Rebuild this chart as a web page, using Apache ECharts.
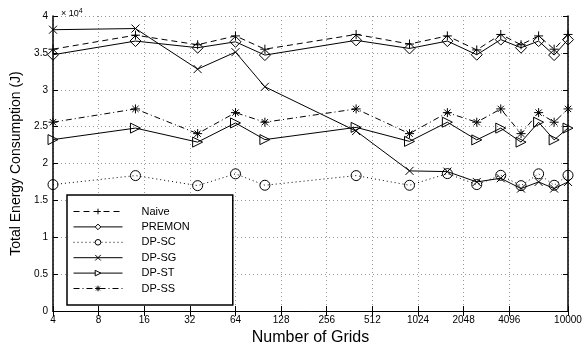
<!DOCTYPE html>
<html>
<head>
<meta charset="utf-8">
<script src="https://cdn.jsdelivr.net/npm/echarts@6/dist/echarts.min.js"></script>
<style>
  html, body { margin: 0; padding: 0; background: #fff; }
  #chart { width: 587px; height: 343px; }
</style>
</head>
<body>
<div id="chart"></div>
<script>
// x values (number of grids)
var grids = [4, 14, 36, 64, 100, 400, 900, 1600, 2500, 3600, 4900, 6400, 8100, 10000];
var xTicks = [4, 8, 16, 32, 64, 128, 256, 512, 1024, 2048, 4096, 10000];

// energy in J
var naive = [35500, 37400, 36100, 37300, 35500, 37500, 36200, 37300, 35400, 37500, 36100, 37300, 35500, 37500];
var premon = [34750, 36600, 35700, 36500, 34700, 36700, 35600, 36600, 34750, 36800, 35700, 36600, 34700, 36800];
var dpSC = [17140, 18360, 17000, 18600, 17050, 18360, 17050, 18630, 17140, 18400, 17000, 18600, 17050, 18400];
var dpSG = [38140, 38300, 32800, 35100, 30400, 24400, 19000, 18900, 17500, 18000, 16600, 17500, 16600, 17500];
var dpST = [23240, 24800, 22900, 25500, 23240, 24900, 23000, 25600, 23200, 24800, 22900, 25600, 23200, 24800];
var dpSS = [25600, 27400, 24050, 26900, 25600, 27400, 24050, 26900, 25600, 27400, 24050, 26900, 25600, 27400];

var FONT = "Liberation Sans";

function pairs(vals) {
  return grids.map(function (g, i) { return [g, vals[i]]; });
}

function line(name, vals, symbol, size, dash) {
  return {
    name: name,
    type: "line",
    data: pairs(vals),
    symbol: symbol,
    symbolSize: size,
    showAllSymbol: true,
    lineStyle: { color: "#000", width: 1, type: dash },
    itemStyle: { color: "rgba(0,0,0,0)", borderColor: "#000", borderWidth: 1 },
    emphasis: { disabled: true },
    animation: false
  };
}

var chart = echarts.init(document.getElementById("chart"));

var xLabel = {
  customValues: xTicks,
  fontFamily: FONT, fontSize: 10, color: "#000", margin: 4,
  formatter: function (v) { return String(Math.round(v)); }
};

var option = {
  title: {
    text: "× 10{s|4}",
    left: 56, top: 3,
    textStyle: {
      fontFamily: FONT, fontSize: 9, fontWeight: "normal", color: "#000",
      rich: { s: { fontSize: 7, verticalAlign: "top", padding: [0, 0, 5, 0] } }
    }
  },
  grid: { left: 53, right: 19, top: 16, bottom: 32, outerBoundsMode: "none" },
  legend: {
    orient: "vertical",
    left: 67, top: 195,
    itemWidth: 49, itemHeight: 7, itemGap: 3.4,
    padding: [10.5, 43, 10.5, 6],
    backgroundColor: "#fff",
    borderColor: "#000", borderWidth: 1.5,
    lineStyle: { width: 1 },
    itemStyle: { color: "#fff", borderColor: "#000", borderWidth: 1 },
    textStyle: { fontFamily: FONT, fontSize: 11, lineHeight: 12, color: "#000", padding: [0, 0, 0, 14] },
    data: ["Naive", "PREMON", "DP-SC", "DP-SG", "DP-ST", "DP-SS"]
  },
  xAxis: [{
    type: "log", logBase: 2, min: 4, max: 10000,
    name: "Number of Grids", nameLocation: "middle", nameGap: 15,
    nameTextStyle: { fontFamily: FONT, fontSize: 16, color: "#000" },
    axisLine: { lineStyle: { color: "#000", width: 1 } },
    axisTick: { inside: true, length: 5, customValues: xTicks, lineStyle: { color: "#000" } },
    axisLabel: xLabel,
    splitLine: { show: true, lineStyle: { color: "#999", type: [1, 3], width: 1 } }
  }, {
    type: "log", logBase: 2, min: 4, max: 10000, position: "top",
    axisLine: { lineStyle: { color: "#000", width: 1 } },
    axisTick: { inside: true, length: 5, customValues: xTicks, lineStyle: { color: "#000" } },
    axisLabel: { show: false },
    splitLine: { show: false }
  }],
  yAxis: [{
    type: "value", min: 0, max: 40000, interval: 5000,
    name: "Total Energy Consumption (J)", nameLocation: "middle", nameGap: 30,
    nameTextStyle: { fontFamily: FONT, fontSize: 14, color: "#000" },
    axisLine: { show: true, lineStyle: { color: "#000", width: 1.5 } },
    axisTick: { show: true, inside: true, length: 5, lineStyle: { color: "#000" } },
    axisLabel: {
      fontFamily: FONT, fontSize: 10, color: "#000", margin: 5,
      formatter: function (v) { return String(v / 10000); }
    },
    splitLine: { show: true, lineStyle: { color: "#999", type: [1, 3], width: 1 } }
  }, {
    type: "value", min: 0, max: 40000, interval: 5000, position: "right",
    axisLine: { show: true, lineStyle: { color: "#000", width: 1.5 } },
    axisTick: { show: true, inside: true, length: 5, lineStyle: { color: "#000" } },
    axisLabel: { show: false },
    splitLine: { show: false }
  }],
  series: [
    line("Naive", naive, "path://M5,0 L5,10 M0,5 L10,5", 9, [6, 4]),
    line("PREMON", premon, "path://M5,0 L10,5 L5,10 L0,5 Z", 11, "solid"),
    line("DP-SC", dpSC, "circle", 10, [1, 3]),
    line("DP-SG", dpSG, "path://M0,0 L10,10 M10,0 L0,10", 8, "solid"),
    line("DP-ST", dpST, "path://M0,0 L10,5 L0,10 Z", 10, "solid"),
    line("DP-SS", dpSS, "path://M5,0 L5,10 M0,5 L10,5 M1.5,1.5 L8.5,8.5 M8.5,1.5 L1.5,8.5", 9, [6, 3, 1, 3])
  ]
};

chart.setOption(option);
</script>
</body>
</html>
